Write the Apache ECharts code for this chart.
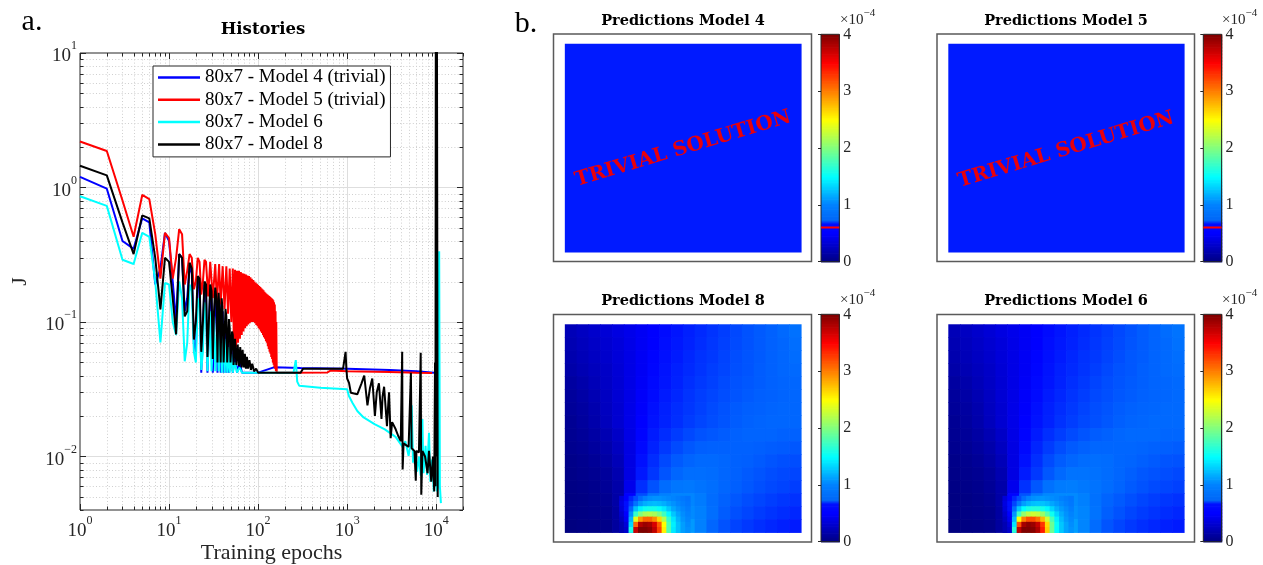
<!DOCTYPE html>
<html><head><meta charset="utf-8">
<script src="https://cdn.jsdelivr.net/npm/echarts@6/dist/echarts.min.js"></script>
<style>html,body{margin:0;padding:0;background:#fff}#c{width:1263px;height:565px}</style>
</head><body><div id="c"></div>
<script>
// ---------------- DATA ----------------
const seriesNames = ['80x7 - Model 4 (trivial)', '80x7 - Model 5 (trivial)', '80x7 - Model 6', '80x7 - Model 8'];
const xLimits = [1, 20000];
const yLimits = [0.004, 10];
const xTickExps = [0, 1, 2, 3, 4];
const yTickExps = [-2, -1, 0, 1];

// [epoch, J]
const model4 = [[1,1.2],[2,0.98],[3,0.40],[4,0.35],[5,0.59],[6,0.55],[7,0.19],[8,0.25],[9,0.46],[10,0.40],[11,0.2],[12,0.1],[13,0.32],[14,0.3],[15,0.12],[16,0.15],[17,0.26],[18,0.23],[19,0.07],[20,0.06],[21,0.2],[22,0.19],
 [23,0.042],[25,0.19],[26,0.17],[27,0.042],[29,0.17],[30,0.15],[31,0.042],[33,0.16],[34,0.14],[35,0.042],[37,0.14],[38,0.042],[40,0.12],[41,0.042],[43,0.1],[44,0.042],[46,0.09],[47,0.042],[50,0.07],[52,0.042],[55,0.06],[58,0.042],[62,0.05],[66,0.042],
 [100,0.042],[150,0.046],[300,0.0455],[1000,0.045],[3000,0.044],[6000,0.043],[9500,0.042]];

const model5 = [[1,2.2],[2,1.87],[3,0.8],[4,0.43],[5,0.88],[6,0.82],[7,0.45],[8,0.21],[9,0.46],[10,0.42],[11,0.21],[12,0.3],[13,0.49],[14,0.45],[15,0.19],[16,0.24],[17,0.32],[18,0.3],[19,0.175],[20,0.2],[21,0.3],[22,0.28],[23,0.16],[24,0.2],[25,0.29],[26,0.28],[27.5,0.155],[29,0.28],[31,0.15],[33,0.27],[34.5,0.14],[36.5,0.27],[38,0.135],[40,0.26],[42,0.125],[44,0.26],[46,0.115],[48,0.25],[50,0.1],[52,0.25],
 [53.5,0.065],[55,0.245],[56.5,0.065],[58,0.24],[59.5,0.07],[61,0.24],[62.5,0.075],[64,0.235],[65.5,0.08],[67,0.23],[68.5,0.085],[70,0.228],[71.5,0.09],[73,0.225],[74.5,0.093],[76,0.222],[77.5,0.096],[79,0.22],[80.5,0.098],[82,0.215],[83.5,0.1],[85,0.21],[86.5,0.1],[88,0.205],[89.5,0.1],[91,0.2],[92.5,0.098],[94,0.196],[95.5,0.095],[97,0.192],[98.5,0.093],[100,0.188],[101.5,0.09],[103,0.185],[104.5,0.088],[106,0.182],[107.5,0.085],[109,0.178],[110.5,0.083],[112,0.175],[113.5,0.08],[115,0.172],[116.5,0.077],[118,0.168],[119.5,0.075],[121,0.165],[122.5,0.072],[124,0.162],[125.5,0.07],[127,0.16],[128.5,0.066],[130,0.158],[131.5,0.063],[133,0.156],[134.5,0.06],[136,0.154],[137.5,0.058],[139,0.152],[140.5,0.055],[142,0.15],[143.5,0.053],[145,0.148],[146.5,0.05],[148,0.145],[149.5,0.048],[151,0.14],[152.5,0.046],[154,0.135],[155.5,0.045],[157,0.12],[158.5,0.043],[160,0.1],[162,0.042],
 [200,0.042],[600,0.0422],[650,0.0435],[1000,0.043],[3000,0.0425],[6000,0.042],[9000,0.0418]];

const model6 = [[1,0.86],[2,0.73],[3,0.29],[4,0.27],[5,0.46],[6,0.43],[7,0.2],[8,0.0705],[9,0.195],[10,0.19],[11,0.1],[12,0.08],[13,0.2],[14,0.15],[15,0.051],[16,0.07],[17,0.19],[18,0.17],[19,0.06],[20,0.05],[21,0.15],[22,0.13],[23,0.044],[24,0.06],[25,0.14],[26,0.12],[27,0.043],[29,0.12],[30,0.043],[32,0.11],[33,0.043],[35,0.1],[36,0.043],[38,0.09],[39,0.042],[41,0.085],[42,0.042],[44,0.075],[45,0.042],[47,0.065],[48,0.042],[50,0.058],[52,0.042],[55,0.05],[58,0.042],[62,0.046],[66,0.042],
 [250,0.042],[265,0.052],[275,0.036],[290,0.0335],[500,0.0325],[1000,0.0316],[1050,0.028],[1150,0.025],[1300,0.0218],[1530,0.0195],[2030,0.0174],[2650,0.0159],[3500,0.014],[4200,0.0118],[4500,0.013],[4900,0.0101],[5100,0.012],[5300,0.024],[5500,0.009],[5800,0.011],[6100,0.0077],[6400,0.01],[6700,0.0072],[7000,0.019],[7200,0.0075],[7600,0.012],[7900,0.0073],[8300,0.015],[8600,0.0065],[9000,0.0095],[9400,0.0055],[9800,0.008],[10200,0.0055],[10500,0.006],[10800,0.335],[11000,0.006],[11300,0.0045]];

const model8 = [[1,1.45],[2,1.23],[3,0.55],[4,0.32],[5,0.62],[6,0.59],[7,0.3],[8,0.124],[9,0.30],[10,0.28],[11,0.15],[12,0.081],[13,0.32],[14,0.30],[15,0.11],[16,0.12],[17,0.276],[18,0.25],[19,0.074],[20,0.1],[21,0.22],[22,0.21],[23,0.06],[24,0.1],[25,0.2],[26,0.19],[27,0.055],[28,0.1],[29,0.19],[30,0.17],[31,0.053],[32,0.12],[33,0.18],[34,0.15],[35,0.05],[36,0.165],[37,0.12],[38,0.05],[39,0.15],[40,0.12],[41,0.05],[43,0.125],[44,0.11],[45,0.05],[47,0.105],[48,0.09],[49,0.05],[51,0.085],[52,0.08],[53,0.048],[55,0.075],[57,0.048],[59,0.068],[61,0.047],[63,0.065],[65,0.046],[67,0.062],[69,0.046],[71,0.058],[73,0.045],[75,0.055],[77,0.045],[80,0.052],[83,0.044],[86,0.049],[90,0.043],[95,0.045],[100,0.042],
 [300,0.042],[320,0.045],[350,0.045],[900,0.045],[960,0.06],[980,0.045],[1000,0.038],[1050,0.0353],[1100,0.0298],[1300,0.029],[1450,0.035],[1555,0.04],[1690,0.024],[1800,0.032],[1915,0.038],[2050,0.02],[2150,0.03],[2275,0.035],[2430,0.019],[2500,0.028],[2600,0.033],[2800,0.0168],[2900,0.025],[2955,0.03],[3080,0.0137],[3200,0.018],[3500,0.016],[3750,0.0142],[4000,0.013],[4150,0.06],[4200,0.008],[4300,0.0125],[4900,0.0118],[5200,0.042],[5300,0.0115],[5700,0.011],[5900,0.0066],[6000,0.011],[6400,0.0107],[6700,0.059],[6800,0.0052],[7000,0.011],[7500,0.01],[8000,0.0075],[8300,0.011],[8800,0.0065],[9200,0.01],[9500,0.0055],[9700,0.05],[9800,0.006],[9900,12],[10050,0.01],[10200,12],[10400,0.005]];

// Prediction fields (x1e-4), rows top -> bottom, 20 columns
const field8 = [
 [0.22,0.26,0.30,0.34,0.38,0.42,0.46,0.50,0.54,0.58,0.62,0.66,0.70,0.74,0.78,0.82,0.85,0.88,0.91,0.94],
 [0.20,0.24,0.28,0.32,0.36,0.41,0.46,0.50,0.55,0.59,0.63,0.67,0.71,0.75,0.79,0.82,0.85,0.88,0.90,0.93],
 [0.18,0.22,0.26,0.30,0.35,0.40,0.46,0.51,0.56,0.60,0.65,0.69,0.72,0.76,0.80,0.83,0.85,0.88,0.90,0.92],
 [0.16,0.20,0.24,0.28,0.34,0.40,0.46,0.52,0.57,0.62,0.66,0.70,0.74,0.77,0.81,0.83,0.86,0.88,0.90,0.91],
 [0.13,0.17,0.22,0.27,0.33,0.40,0.47,0.53,0.58,0.63,0.68,0.72,0.75,0.79,0.82,0.84,0.86,0.88,0.89,0.90],
 [0.11,0.15,0.20,0.26,0.33,0.40,0.48,0.54,0.60,0.65,0.70,0.74,0.77,0.80,0.83,0.85,0.87,0.88,0.89,0.90],
 [0.10,0.13,0.18,0.25,0.32,0.41,0.49,0.56,0.62,0.67,0.71,0.75,0.79,0.82,0.85,0.87,0.88,0.89,0.90,0.90],
 [0.08,0.12,0.17,0.24,0.32,0.41,0.50,0.57,0.63,0.68,0.73,0.77,0.80,0.83,0.86,0.88,0.89,0.90,0.90,0.90],
 [0.07,0.10,0.14,0.20,0.28,0.40,0.51,0.60,0.67,0.73,0.78,0.82,0.84,0.86,0.88,0.89,0.89,0.89,0.88,0.88],
 [0.06,0.08,0.12,0.17,0.25,0.39,0.53,0.63,0.72,0.79,0.84,0.87,0.88,0.88,0.88,0.88,0.87,0.86,0.85,0.84],
 [0.04,0.06,0.09,0.14,0.22,0.39,0.56,0.67,0.78,0.85,0.89,0.91,0.91,0.90,0.88,0.87,0.85,0.83,0.81,0.80],
 [0.03,0.05,0.07,0.11,0.19,0.39,0.59,0.71,0.83,0.90,0.93,0.93,0.92,0.90,0.88,0.85,0.83,0.80,0.78,0.77],
 [0.02,0.03,0.05,0.09,0.16,0.42,0.68,0.82,0.92,0.96,0.97,0.95,0.93,0.90,0.87,0.84,0.81,0.78,0.76,0.74],
 [0.01,0.02,0.04,0.07,0.15,0.50,0.80,0.95,1.00,1.02,1.02,0.98,0.92,0.88,0.84,0.80,0.77,0.74,0.71,0.69],
 [0.01,0.02,0.03,0.05,0.13,0.50,1.00,1.20,1.20,1.10,1.04,1.00,0.93,0.86,0.81,0.77,0.73,0.70,0.67,0.65],
 [0.00,0.01,0.02,0.04,0.12,0.50,2.00,3.00,2.00,1.30,1.10,1.00,0.90,0.82,0.76,0.72,0.68,0.65,0.62,0.60]];
const field6 = [
 [0.22,0.26,0.30,0.34,0.38,0.42,0.46,0.50,0.54,0.58,0.62,0.66,0.70,0.74,0.78,0.82,0.86,0.89,0.92,0.95],
 [0.20,0.24,0.28,0.32,0.36,0.41,0.46,0.50,0.55,0.59,0.63,0.67,0.71,0.75,0.79,0.83,0.86,0.89,0.91,0.94],
 [0.18,0.22,0.26,0.30,0.35,0.40,0.46,0.51,0.56,0.60,0.65,0.69,0.72,0.76,0.80,0.84,0.86,0.89,0.91,0.93],
 [0.16,0.20,0.24,0.28,0.34,0.40,0.46,0.52,0.57,0.62,0.66,0.70,0.74,0.78,0.82,0.84,0.87,0.89,0.91,0.92],
 [0.13,0.17,0.22,0.27,0.33,0.40,0.47,0.53,0.58,0.63,0.68,0.72,0.76,0.80,0.83,0.85,0.87,0.89,0.90,0.91],
 [0.11,0.15,0.20,0.26,0.33,0.40,0.48,0.54,0.60,0.65,0.70,0.74,0.78,0.81,0.84,0.86,0.88,0.89,0.90,0.91],
 [0.10,0.13,0.18,0.25,0.32,0.41,0.49,0.56,0.62,0.67,0.72,0.76,0.80,0.83,0.86,0.88,0.89,0.90,0.91,0.91],
 [0.08,0.12,0.17,0.24,0.32,0.41,0.50,0.57,0.63,0.69,0.74,0.78,0.81,0.84,0.87,0.89,0.90,0.91,0.91,0.91],
 [0.07,0.10,0.14,0.20,0.28,0.40,0.51,0.60,0.68,0.74,0.79,0.83,0.86,0.88,0.90,0.91,0.91,0.91,0.90,0.90],
 [0.06,0.08,0.12,0.17,0.25,0.39,0.53,0.64,0.73,0.80,0.85,0.88,0.90,0.90,0.90,0.90,0.89,0.88,0.87,0.86],
 [0.04,0.06,0.09,0.14,0.22,0.39,0.56,0.68,0.79,0.86,0.90,0.92,0.93,0.92,0.90,0.89,0.87,0.85,0.83,0.82],
 [0.03,0.05,0.07,0.11,0.19,0.39,0.60,0.72,0.84,0.91,0.95,0.95,0.94,0.92,0.90,0.87,0.84,0.82,0.80,0.78],
 [0.02,0.03,0.05,0.09,0.16,0.43,0.69,0.84,0.94,0.98,0.99,0.97,0.95,0.92,0.89,0.85,0.82,0.79,0.77,0.75],
 [0.01,0.02,0.04,0.07,0.15,0.51,0.82,0.97,1.03,1.04,1.04,1.00,0.94,0.89,0.85,0.81,0.77,0.74,0.71,0.69],
 [0.01,0.02,0.03,0.05,0.13,0.51,1.02,1.22,1.22,1.12,1.06,1.02,0.95,0.87,0.82,0.77,0.73,0.70,0.67,0.65],
 [0.00,0.01,0.02,0.04,0.12,0.52,2.00,3.00,2.10,1.35,1.12,1.02,0.92,0.83,0.77,0.72,0.68,0.65,0.62,0.60]];
// refined cells around the peak, rows top -> bottom, 15 columns
const hot8 = [
 [0.35,0.50,0.65,0.80,0.92,1.00,1.05,1.07,1.07,1.05,1.03,1.01,0.99,0.97,0.95],
 [0.38,0.55,0.75,0.95,1.10,1.18,1.22,1.24,1.22,1.18,1.12,1.07,1.02,0.99,0.96],
 [0.35,0.55,0.90,1.25,1.45,1.55,1.58,1.58,1.52,1.42,1.28,1.15,1.07,1.02,0.98],
 [0.30,0.50,1.05,1.70,2.00,2.15,2.20,2.15,2.00,1.75,1.48,1.28,1.14,1.05,1.00],
 [0.25,0.45,1.20,2.40,2.90,3.10,3.10,2.95,2.65,2.20,1.70,1.40,1.20,1.08,1.02],
 [0.20,0.35,1.35,3.10,3.80,3.90,3.85,3.65,3.15,2.50,1.80,1.45,1.25,1.12,1.04],
 [0.20,0.30,1.60,3.70,4.00,4.00,3.95,3.75,3.25,2.55,1.80,1.42,1.25,1.12,1.06]];
const hot6 = [
 [0.35,0.50,0.65,0.80,0.93,1.01,1.06,1.08,1.09,1.07,1.05,1.03,1.00,0.98,0.96],
 [0.38,0.55,0.76,0.97,1.12,1.20,1.25,1.27,1.26,1.22,1.15,1.09,1.04,1.00,0.97],
 [0.35,0.55,0.92,1.28,1.50,1.60,1.64,1.64,1.58,1.48,1.33,1.19,1.10,1.04,0.99],
 [0.30,0.50,1.08,1.75,2.08,2.24,2.30,2.25,2.10,1.85,1.56,1.33,1.17,1.07,1.01],
 [0.25,0.45,1.22,2.50,3.00,3.20,3.20,3.05,2.78,2.32,1.80,1.45,1.23,1.10,1.03],
 [0.20,0.35,1.40,3.20,3.85,3.95,3.90,3.72,3.30,2.65,1.92,1.52,1.28,1.14,1.05],
 [0.20,0.30,1.65,3.75,4.00,4.00,3.98,3.82,3.40,2.70,1.92,1.50,1.28,1.14,1.07]];
const trivialValue4 = 0.6;
const trivialValue5 = 0.6;
const colorbarRange = [0, 4];

// ---------------- STYLE ----------------
const SERIF = '"Liberation Serif","Times New Roman",serif';
const BOLD = '"DejaVu Serif",serif';
const TXT = '#262626';
const lineColors = ['#0000ff', '#ff0000', '#00ffff', '#000000'];
const jet = ['#000080','#0000ff','#0080ff','#00ffff','#80ff80','#ffff00','#ff8000','#ff0000','#800000'];
const barStops = [[0,'#000080'],[0.5,'#0000ff'],[0.69,'#0010ff'],[0.72,'#0064f5'],[1.0,'#0080ff'],[1.5,'#00ffff'],[2.0,'#80ff80'],[2.5,'#ffff00'],[3.0,'#ff8000'],[3.5,'#ff0000'],[4.0,'#800000']];
function hex2rgb(h){return [parseInt(h.slice(1,3),16),parseInt(h.slice(3,5),16),parseInt(h.slice(5,7),16)];}
function barColorAt(v){
  for (let i=1;i<barStops.length;i++){
    if (v<=barStops[i][0]){
      const a=barStops[i-1], b=barStops[i], t=(v-a[0])/(b[0]-a[0]);
      const ca=hex2rgb(a[1]), cb=hex2rgb(b[1]);
      return 'rgb('+ca.map((c,k)=>Math.round(c+(cb[k]-c)*t)).join(',')+')';
    }
  }
  return barStops[barStops.length-1][1];
}
const barColors=[]; for(let k=0;k<=160;k++) barColors.push(barColorAt(k*0.025));

// ---------------- BUILD ----------------
const L = Math.log10;
const toLog = arr => arr.map(p => [L(p[0]), L(p[1])]);
const xMinL = L(xLimits[0]), xMaxL = L(xLimits[1]), yMinL = L(yLimits[0]), yMaxL = L(yLimits[1]);

function logTickList(lim){
  const out=[];
  for(let d=Math.floor(L(lim[0])); d<=Math.ceil(L(lim[1])); d++){
    for(let m=1;m<=9;m++){ const v=m*Math.pow(10,d); if(v>=lim[0]*0.9999 && v<=lim[1]*1.0001) out.push([L(v), m===1?1:0]); }
  }
  return out;
}
const gridData = [];
logTickList(xLimits).forEach(t => gridData.push([t[0], yMinL, 0, t[1]]));
logTickList(yLimits).forEach(t => gridData.push([xMinL, t[0], 1, t[1]]));

function renderGrid(params, api){
  const cs = params.coordSys;
  const kind = api.value(2), major = api.value(3);
  const p = api.coord([api.value(0), api.value(1)]);
  const kids = [];
  const gStyle = major ? {stroke:'#dedede', lineWidth:1} : {stroke:'#cfcfcf', lineWidth:1, lineDash:[1,2.2]};
  const tl = major ? 6 : 3.5;
  const tStyle = {stroke:TXT, lineWidth:1};
  if (kind === 0){
    const x = Math.round(p[0])+0.5;
    const y0 = cs.y, y1 = cs.y+cs.height;
    if (x > cs.x+1 && x < cs.x+cs.width-1){
      kids.push({type:'line', shape:{x1:x,y1:y0,x2:x,y2:y1}, style:gStyle});
    }
    kids.push({type:'line', shape:{x1:x,y1:y1,x2:x,y2:y1-tl}, style:tStyle});
    kids.push({type:'line', shape:{x1:x,y1:y0,x2:x,y2:y0+tl}, style:tStyle});
  } else {
    const y = Math.round(p[1])+0.5;
    const x0 = cs.x, x1 = cs.x+cs.width;
    if (y > cs.y+1 && y < cs.y+cs.height-1){
      kids.push({type:'line', shape:{x1:x0,y1:y,x2:x1,y2:y}, style:gStyle});
    }
    kids.push({type:'line', shape:{x1:x0,y1:y,x2:x0+tl,y2:y}, style:tStyle});
    kids.push({type:'line', shape:{x1:x1,y1:y,x2:x1-tl,y2:y}, style:tStyle});
  }
  return {type:'group', children:kids};
}

function cellsFromRows(rows, x0, y0, dx, dy){
  const out=[], n=rows.length;
  rows.forEach((row,j)=>row.forEach((v,i)=>{
    const yb = y0 + (n-1-j)*dy;
    out.push([x0+i*dx, yb, x0+(i+1)*dx, yb+dy, v]);
  }));
  return out;
}
function renderCell(params, api){
  const p0 = api.coord([api.value(0), api.value(3)]);
  const p1 = api.coord([api.value(2), api.value(1)]);
  return {type:'rect', shape:{x:p0[0], y:p0[1], width:p1[0]-p0[0]+0.7, height:p1[1]-p0[1]+0.7},
          style:{fill: api.visual('color')}};
}
const colorbarCells = [];
for (let k=0;k<160;k++){ const lo=colorbarRange[0]+k*0.025; colorbarCells.push([0, lo, 1, lo+0.025, lo+0.0125]); }

const fieldGrids = [
  {left:553.5, top:34, width:258, height:227.5},
  {left:937, top:34, width:257.5, height:227.5},
  {left:553.5, top:314.5, width:258, height:227.5},
  {left:937, top:314.5, width:257.5, height:227.5}];
const barGrids = [
  {left:821, top:34.3, width:18.3, height:227.4},
  {left:1203.3, top:34.3, width:18.3, height:227.4},
  {left:821, top:314.3, width:18.3, height:227.4},
  {left:1203.3, top:314.3, width:18.3, height:227.4}];

const grids = [{left:80, top:53, width:383, height:457, show:true, borderColor:TXT, borderWidth:1, outerBoundsMode:'none', containLabel:false}];
fieldGrids.forEach(g => grids.push(Object.assign({show:true, borderColor:'#5a5a5a', borderWidth:1.5, outerBoundsMode:'none', containLabel:false}, g)));
barGrids.forEach(g => grids.push(Object.assign({show:true, borderColor:TXT, borderWidth:1, z:5, outerBoundsMode:'none', containLabel:false}, g)));

const expFmt = v => { const n=Math.round(v); return n<0 ? '\u2212'+Math.abs(n) : String(n); };
const richPow = {
  b:{fontFamily:SERIF, fontSize:19, color:TXT, lineHeight:26, verticalAlign:'bottom'},
  s:{fontFamily:SERIF, fontSize:12, color:TXT, lineHeight:12, verticalAlign:'top'}};

const xAxes = [{gridIndex:0, type:'value', min:xMinL, max:xMaxL,
  axisLine:{show:false}, axisTick:{show:false}, splitLine:{show:false},
  axisLabel:{customValues:xTickExps, formatter:v=>'{b|10}{s|'+expFmt(v)+'}', rich:richPow, margin:5},
  name:'Training epochs', nameLocation:'middle', nameGap:32, nameMoveOverlap:false,
  nameTextStyle:{fontFamily:SERIF, fontSize:22, color:TXT}}];
const yAxes = [{gridIndex:0, type:'value', min:yMinL, max:yMaxL,
  axisLine:{show:false}, axisTick:{show:false}, splitLine:{show:false},
  axisLabel:{customValues:yTickExps, formatter:v=>'{b|10}{s|'+expFmt(v)+'}', rich:richPow, margin:3},
  name:'J', nameLocation:'middle', nameGap:49, nameMoveOverlap:false,
  nameTextStyle:{fontFamily:SERIF, fontSize:22, color:TXT}}];
for (let i=1;i<=4;i++){
  xAxes.push({gridIndex:i, type:'value', min:-0.048, max:1.045, show:false});
  yAxes.push({gridIndex:i, type:'value', min:-0.047, max:1.047, show:false});
}
for (let i=5;i<=8;i++){
  xAxes.push({gridIndex:i, type:'value', min:0, max:1, show:false});
  yAxes.push({gridIndex:i, type:'value', position:'right', min:colorbarRange[0], max:colorbarRange[1], interval:1,
    axisLine:{show:false}, splitLine:{show:false},
    axisTick:{show:true, inside:true, length:3, lineStyle:{color:TXT}},
    axisLabel:{fontFamily:SERIF, fontSize:16, color:TXT, margin:4, formatter:v=>String(v)}});
}

const series = [
  {type:'custom', name:'grid', xAxisIndex:0, yAxisIndex:0, renderItem:renderGrid, data:gridData, silent:true, z:1, clip:false}];
[model4, model5, model6, model8].forEach((m,i)=>series.push({
  type:'line', name:seriesNames[i], xAxisIndex:0, yAxisIndex:0, data:toLog(m), showSymbol:false, symbol:'none',
  lineStyle:{color:lineColors[i], width:2}, itemStyle:{color:lineColors[i]}, z:2+i, clip:true}));
const cellSeries = (gi, data) => ({type:'custom', xAxisIndex:gi, yAxisIndex:gi, renderItem:renderCell, data:data,
  encode:{x:[0,2], y:[1,3]}, silent:true, z:2});
series.push(cellSeries(1, [[0,0,1,1,trivialValue4]]));   // 5
series.push(cellSeries(2, [[0,0,1,1,trivialValue5]]));   // 6
series.push(cellSeries(3, cellsFromRows(field8, 0, 0, 1/20, 1/16))); // 7
series.push(cellSeries(3, cellsFromRows(hot8, 0.23, 0, 0.02, 0.025))); // 8
series.push(cellSeries(4, cellsFromRows(field6, 0, 0, 1/20, 1/16))); // 9
series.push(cellSeries(4, cellsFromRows(hot6, 0.23, 0, 0.02, 0.025))); // 10
for (let i=5;i<=8;i++) series.push(cellSeries(i, colorbarCells)); // 11-14
[[5,trivialValue4],[6,trivialValue5]].forEach(t => series.push({type:'line', xAxisIndex:t[0], yAxisIndex:t[0],
  data:[[0,t[1]],[1,t[1]]], symbol:'none', lineStyle:{color:'#ff0000', width:2}, z:6, silent:true}));

const gtext = (text, x, y, font, size, weight, fill, extra) => Object.assign({type:'text', x:x, y:y, silent:true,
  style:{text:text, fontFamily:font, fontSize:size, fontWeight:weight||'normal', fill:fill||'#000', align:'center', verticalAlign:'middle'}}, extra||{});
const expRich = {
  a:{fontFamily:SERIF, fontSize:15, fill:TXT, lineHeight:20, verticalAlign:'bottom'},
  e:{fontFamily:SERIF, fontSize:11, fill:TXT, lineHeight:11, verticalAlign:'top'}};
const scaleText = (x, y) => ({type:'text', x:x, y:y, silent:true,
  style:{text:'{a|\u00d710}{e|\u22124}', rich:expRich, align:'left', verticalAlign:'middle'}});

const option = {
  animation:false,
  backgroundColor:'#fff',
  grid:grids, xAxis:xAxes, yAxis:yAxes, series:series,
  legend:{data:seriesNames, orient:'vertical', left:153, top:66, padding:[2,5,3,5], itemGap:3.3,
    itemWidth:42, itemHeight:2.5, icon:'rect', borderColor:TXT, borderWidth:1, backgroundColor:'#fff',
    textStyle:{fontFamily:SERIF, fontSize:19, color:'#000', lineHeight:19}, selectedMode:false},
  visualMap:[
    {type:'continuous', show:false, min:colorbarRange[0], max:colorbarRange[1], dimension:4, seriesIndex:[5,6,7,8,9,10], inRange:{color:jet}},
    {type:'continuous', show:false, min:colorbarRange[0], max:colorbarRange[1], dimension:4, seriesIndex:[11,12,13,14], inRange:{color:barColors}}],
  graphic:[
    gtext('a.', 32, 22, SERIF, 30),
    gtext('b.', 526, 24, SERIF, 30),
    gtext('Histories', 263, 30, BOLD, 16.5, 'bold'),
    gtext('Predictions Model 4', 683, 21.5, BOLD, 14.5, 'bold'),
    gtext('Predictions Model 5', 1066, 21.5, BOLD, 14.5, 'bold'),
    gtext('Predictions Model 8', 683, 301.5, BOLD, 14.5, 'bold'),
    gtext('Predictions Model 6', 1066, 301.5, BOLD, 14.5, 'bold'),
    gtext('TRIVIAL SOLUTION', 683, 149, BOLD, 20, 'bold', '#e8000b', {rotation:0.29, z:10}),
    gtext('TRIVIAL SOLUTION', 1066, 150, BOLD, 20, 'bold', '#e8000b', {rotation:0.29, z:10}),
    scaleText(840, 18), scaleText(1222, 18), scaleText(840, 298), scaleText(1222, 298)
  ]
};

const chart = echarts.init(document.getElementById('c'), null, {renderer:'canvas', width:1263, height:565});
chart.setOption(option);
</script></body></html>
